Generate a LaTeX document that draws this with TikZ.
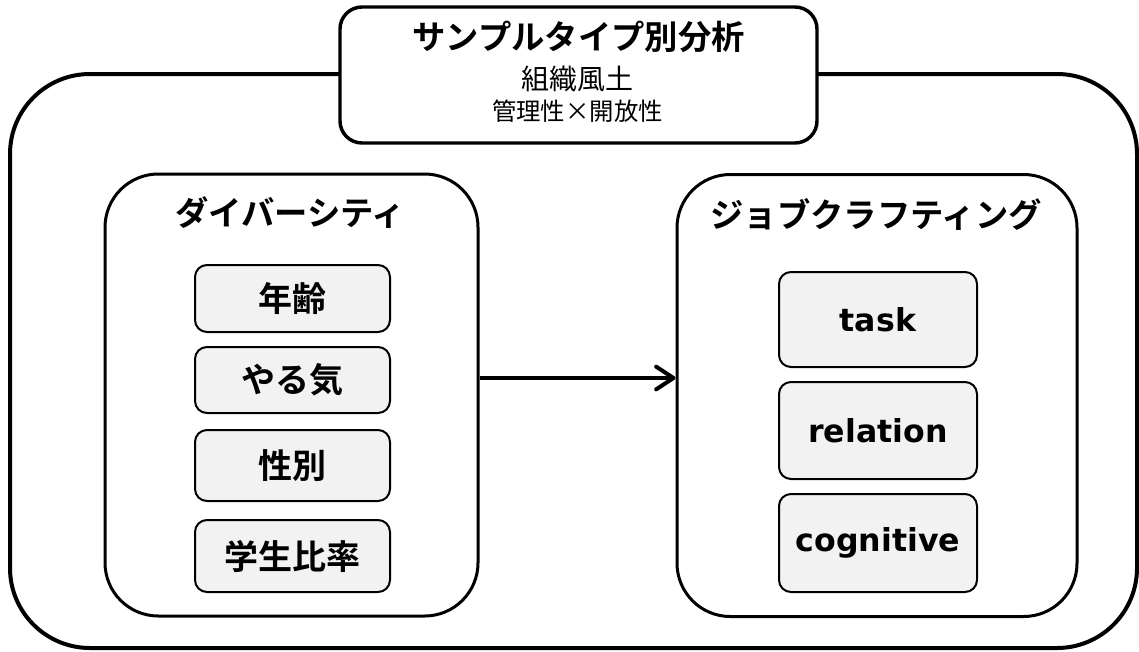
\documentclass[tikz,border=0pt]{standalone}
\usepackage{fontspec}
\newfontfamily\jp{Noto Sans CJK JP}[BoldFont={Noto Sans CJK JP Bold}]
\newfontfamily\lat{DejaVu Sans}[BoldFont={DejaVu Sans Bold}]
\usetikzlibrary{arrows.meta}
\definecolor{itemfill}{HTML}{F2F2F2}
\begin{document}
\begin{tikzpicture}[x=0.75pt,y=-0.75pt,
  outerbox/.style={draw=black, line width=3pt, rounded corners=60pt, inner sep=0pt, minimum width=845.25pt, minimum height=430.5pt},
  titlebox/.style={draw=black, fill=white, line width=2.6pt, rounded corners=16.5pt, inner sep=0pt, minimum width=357.75pt, minimum height=102pt},
  groupbox/.style={draw=black, fill=white, line width=2.25pt, rounded corners=40pt, inner sep=0pt, minimum height=331.5pt},
  itembox/.style={draw=black, fill=itemfill, line width=1.5pt, rounded corners=9pt, inner sep=0pt},
  jpitem/.style={itembox, minimum width=146.25pt, font=\jp\bfseries\fontsize{25.5pt}{29pt}\selectfont},
  enitem/.style={itembox, minimum width=148.5pt, font=\lat\bfseries\fontsize{23.7pt}{28pt}\selectfont},
  heading/.style={font=\jp\bfseries\fontsize{25pt}{29pt}\selectfont, inner sep=0pt},
  conn/.style={line width=3pt, -{Straight Barb[length=13pt,width=17pt,round]}}
]
\useasboundingbox (0,0) rectangle (1139,651);
\node[outerbox] (outer) at (573.5,361) {};
\node[titlebox] (title) at (578.5,75) {};
\node[font=\jp\bfseries\fontsize{25pt}{29pt}\selectfont, inner sep=0pt] (t1) at (578.5,37) {サンプルタイプ別分析};
\node[font=\jp\fontsize{21pt}{25pt}\selectfont, inner sep=0pt] (t2) at (577,79) {組織風土};
\node[font=\jp\fontsize{18.3pt}{22pt}\selectfont, inner sep=0pt] (t3) at (577.5,111) {管理性×開放性};

\node[groupbox, minimum width=279.75pt] (lbox) at (291.5,395) {};
\node[groupbox, minimum width=300pt] (rbox) at (877,395.5) {};
\node[heading] (lh) at (290,213) {ダイバーシティ};
\node[heading] (rh) at (876,215) {ジョブクラフティング};

\node[jpitem, minimum height=50.25pt] (a1) at (292.5,298.5) {年齢};
\node[jpitem, minimum height=49.5pt] (a2) at (292.5,380) {やる気};
\node[jpitem, minimum height=53.25pt] (a3) at (292.5,465.5) {性別};
\node[jpitem, minimum height=54pt] (a4) at (292.5,556) {学生比率};

\node[enitem, minimum height=71.25pt] (b1) at (878,319.5) {task};
\node[enitem, minimum height=72.75pt] (b2) at (878,430.5) {relation};
\node[enitem, minimum height=73.5pt] (b3) at (878,543) {cognitive};

\coordinate (ay) at (578,378);
\draw[conn] (lbox.east |- ay) -- (rbox.west |- ay);
\end{tikzpicture}
\end{document}
